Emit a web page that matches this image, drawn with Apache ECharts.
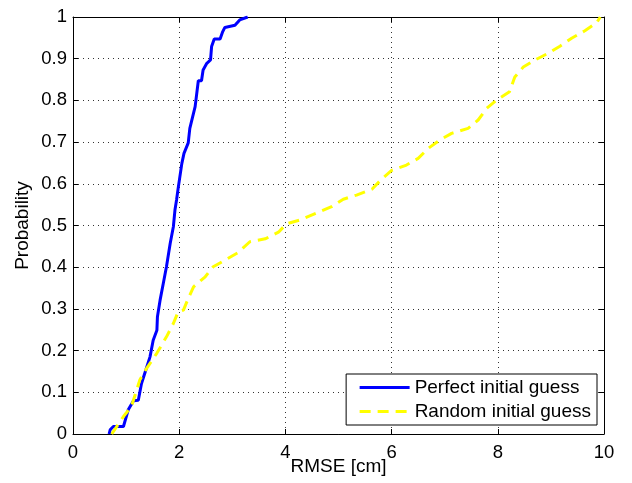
<!DOCTYPE html>
<html>
<head>
<meta charset="utf-8">
<script src="https://cdn.jsdelivr.net/npm/echarts@6/dist/echarts.min.js"></script>
<style>
html, body { margin: 0; padding: 0; background: #fff; }
#main { width: 632px; height: 483px; }
</style>
</head>
<body>
<div id="main"></div>
<script>
var seriesNames = ['Perfect initial guess', 'Random initial guess'];

// RMSE [cm] / probability pairs
var perfectX = [0.68, 0.70, 0.76, 0.95, 1.04, 1.14, 1.23, 1.29, 1.37, 1.45, 1.51, 1.58, 1.59, 1.64, 1.70, 1.76, 1.83, 1.89, 1.92, 1.95, 1.98, 2.05, 2.09, 2.17, 2.20, 2.30, 2.36, 2.42, 2.45, 2.52, 2.59, 2.61, 2.66, 2.77, 2.82, 2.86, 3.05, 3.14, 3.29];
var perfectY = [0.00, 0.01, 0.018, 0.018, 0.058, 0.08, 0.081, 0.121, 0.153, 0.185, 0.225, 0.249, 0.281, 0.321, 0.361, 0.401, 0.457, 0.497, 0.537, 0.561, 0.589, 0.649, 0.673, 0.698, 0.733, 0.785, 0.847, 0.847, 0.873, 0.889, 0.897, 0.929, 0.947, 0.947, 0.965, 0.975, 0.98, 0.993, 1.00];

var randomX = [0.73, 0.95, 1.10, 1.26, 1.39, 1.58, 1.76, 1.89, 1.98, 2.08, 2.17, 2.27, 2.49, 2.64, 2.89, 3.11, 3.33, 3.62, 3.87, 4.02, 4.27, 4.59, 4.87, 5.09, 5.34, 5.63, 5.81, 6.00, 6.28, 6.50, 6.69, 6.91, 7.13, 7.44, 7.63, 7.79, 7.98, 8.22, 8.32, 8.48, 8.70, 8.95, 9.17, 9.39, 9.64, 9.86, 9.93];
var randomY = [0.00, 0.042, 0.066, 0.13, 0.158, 0.194, 0.233, 0.265, 0.293, 0.297, 0.325, 0.353, 0.377, 0.401, 0.419, 0.435, 0.461, 0.468, 0.484, 0.504, 0.513, 0.530, 0.545, 0.563, 0.573, 0.587, 0.611, 0.632, 0.645, 0.661, 0.685, 0.705, 0.721, 0.733, 0.753, 0.781, 0.801, 0.821, 0.856, 0.880, 0.897, 0.913, 0.930, 0.949, 0.967, 0.986, 1.00];

function pairs(xs, ys) {
    var out = [];
    for (var i = 0; i < xs.length; i++) out.push([xs[i], ys[i]]);
    return out;
}

var font = 'Liberation Sans, Arial, Helvetica, sans-serif';

var dom = document.getElementById('main');
var myChart = echarts.init(dom);

var tickInside = { show: true, inside: true, length: 5, lineStyle: { color: '#000', width: 1 } };
var boxLine = { show: true, onZero: false, lineStyle: { color: '#000', width: 1 } };
var dotted = { show: true, lineStyle: { color: '#333', width: 1, type: [1, 4] } };

var option = {
    animation: false,
    backgroundColor: '#fff',
    textStyle: { fontFamily: font },
    grid: { left: 73, right: 28, top: 17, bottom: 49, containLabel: false, outerBoundsMode: 'none' },
    legend: {
        orient: 'vertical',
        right: 35,
        top: 374,
        padding: [4, 6, 4, 12],
        itemGap: 5,
        itemWidth: 50,
        itemHeight: 14,
        backgroundColor: '#fff',
        borderColor: '#000',
        borderWidth: 1,
        borderRadius: 0,
        itemStyle: { opacity: 0 },
        lineStyle: { width: 3 },
        textStyle: { color: '#000', fontSize: 19, fontFamily: font },
        data: seriesNames
    },
    xAxis: [
        {
            type: 'value', min: 0, max: 10, interval: 2,
            name: 'RMSE [cm]', nameLocation: 'middle', nameGap: 23, nameMoveOverlap: false,
            nameTextStyle: { color: '#000', fontSize: 19, fontFamily: font },
            axisLine: boxLine, axisTick: tickInside,
            axisLabel: { color: '#000', fontSize: 18.5, margin: 9, fontFamily: font },
            splitLine: dotted
        },
        {
            type: 'value', min: 0, max: 10, interval: 2, position: 'top',
            axisLine: boxLine, axisTick: tickInside,
            axisLabel: { show: false }, splitLine: { show: false }
        }
    ],
    yAxis: [
        {
            type: 'value', min: 0, max: 1, interval: 0.1,
            name: 'Probability', nameLocation: 'middle', nameGap: 41, nameMoveOverlap: false,
            nameTextStyle: { color: '#000', fontSize: 19, fontFamily: font },
            axisLine: boxLine, axisTick: tickInside,
            axisLabel: { color: '#000', fontSize: 18.5, margin: 6, fontFamily: font },
            splitLine: dotted
        },
        {
            type: 'value', min: 0, max: 1, interval: 0.1, position: 'right',
            axisLine: boxLine, axisTick: tickInside,
            axisLabel: { show: false }, splitLine: { show: false }
        }
    ],
    series: [
        {
            name: seriesNames[0],
            type: 'line',
            symbol: 'none',
            color: '#0000ff',
            lineStyle: { color: '#0000ff', width: 3 },
            data: pairs(perfectX, perfectY)
        },
        {
            name: seriesNames[1],
            type: 'line',
            symbol: 'none',
            color: '#ffff00',
            lineStyle: { color: '#ffff00', width: 3, type: [11, 7] },
            data: pairs(randomX, randomY)
        }
    ]
};

myChart.setOption(option, true);
</script>
</body>
</html>
